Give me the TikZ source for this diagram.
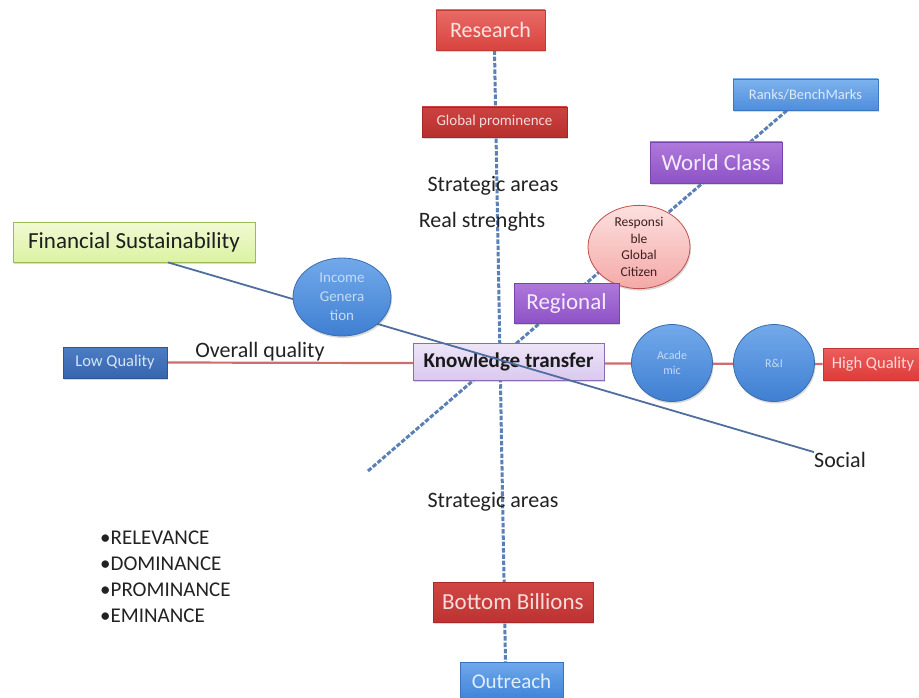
\documentclass[tikz,border=0pt]{standalone}
\usepackage{fontspec}
\setmainfont{Carlito}
\usetikzlibrary{shapes.geometric,shadows,backgrounds}
\definecolor{rsT}{HTML}{E86A66}\definecolor{rsB}{HTML}{D9443F}\definecolor{rsD}{HTML}{C23A36}\definecolor{rsX}{HTML}{FBE3E2}
\definecolor{gpT}{HTML}{CC4240}\definecolor{gpB}{HTML}{B8302E}\definecolor{gpD}{HTML}{A02826}\definecolor{gpX}{HTML}{F5DADA}
\definecolor{rkT}{HTML}{7DB3EE}\definecolor{rkB}{HTML}{4F8DDB}\definecolor{rkD}{HTML}{3F78C2}\definecolor{rkX}{HTML}{DCEAFB}
\definecolor{puT}{HTML}{AE79DB}\definecolor{puB}{HTML}{8E52C6}\definecolor{puD}{HTML}{7A44AE}\definecolor{puX}{HTML}{F3EAFB}
\definecolor{pkT}{HTML}{FCE0DF}\definecolor{pkB}{HTML}{F4A9A7}\definecolor{pkD}{HTML}{C0504D}\definecolor{pkX}{HTML}{3D1F1F}
\definecolor{grT}{HTML}{F1FAD4}\definecolor{grB}{HTML}{DCF2A2}\definecolor{grD}{HTML}{9BBB59}\definecolor{grX}{HTML}{1E1E1E}
\definecolor{blT}{HTML}{72A9EA}\definecolor{blB}{HTML}{3F7FD2}\definecolor{blD}{HTML}{3A6DAE}\definecolor{blX}{HTML}{C5DBF4}
\definecolor{lqT}{HTML}{4B7DC4}\definecolor{lqB}{HTML}{3766AE}\definecolor{lqD}{HTML}{2D5692}\definecolor{lqX}{HTML}{D6E4F6}
\definecolor{kwT}{HTML}{EEE5F8}\definecolor{kwB}{HTML}{D9C9EF}\definecolor{kwD}{HTML}{8A6CB0}\definecolor{kwX}{HTML}{1A1A1A}
\definecolor{hqT}{HTML}{EC5E5C}\definecolor{hqB}{HTML}{DD3C3A}\definecolor{hqD}{HTML}{C53533}\definecolor{hqX}{HTML}{FBDADA}
\definecolor{bbT}{HTML}{CF4644}\definecolor{bbB}{HTML}{BE3331}\definecolor{bbD}{HTML}{A62B29}\definecolor{bbX}{HTML}{F8DCDC}
\definecolor{orT}{HTML}{6FA8EC}\definecolor{orB}{HTML}{3F83D8}\definecolor{orD}{HTML}{3A72BE}\definecolor{orX}{HTML}{E3EEFC}
\definecolor{redline}{HTML}{CC6E6C}
\definecolor{blueline}{HTML}{4F6E9E}
\definecolor{dashline}{HTML}{5A80B5}
\definecolor{txt}{HTML}{222222}
\begin{document}
\begin{tikzpicture}[x=1pt,y=-1pt,
  shad/.style={drop shadow={shadow xshift=1pt,shadow yshift=-2pt,opacity=0.25,fill=black!60}},
  boxnode/.style={rectangle,inner sep=0pt,line width=0.8pt,shad},
  ovalnode/.style={ellipse,inner sep=0pt,line width=0.8pt,shad,align=center},
  pal/.style={top color=#1T,bottom color=#1B,draw=#1D,text=#1X},
  fz/.style={font=\fontsize{#1}{#1}\selectfont},
  plain/.style={text=txt,inner sep=0pt},
  dashln/.style={draw=dashline,line width=3pt,dash pattern=on 4.5pt off 1.8pt},
  redln/.style={draw=redline,line width=2.2pt},
  blueln/.style={draw=blueline,line width=1.8pt}
]
\path[use as bounding box] (0,0) rectangle (919,698);

% boxes
\node[boxnode,pal=rs,minimum width=109pt,minimum height=40pt,fz=22] (research) at (490.5,30) {Research};
\node[boxnode,pal=gp,minimum width=145pt,minimum height=30pt,fz=15] (glob) at (494.5,122) {Global prominence};
\node[boxnode,pal=rk,minimum width=145pt,minimum height=31pt,fz=14.5] (ranks) at (805.5,94.5) {Ranks/BenchMarks};
\node[boxnode,pal=pu,minimum width=132pt,minimum height=41pt,fz=23] (world) at (716,162.5) {World Class};
\node[ovalnode,pal=pk,minimum width=102pt,minimum height=82pt,font=\fontsize{13.5}{16.5}\selectfont] (resp) at (639,247) {Responsi\\ble\\Global\\Citizen};
\node[boxnode,pal=pu,minimum width=105pt,minimum height=40pt,fz=23] (regional) at (566.5,303) {Regional};
\node[boxnode,pal=gr,minimum width=242pt,minimum height=40pt,fz=23] (fin) at (134,242) {Financial Sustainability};
\node[boxnode,pal=lq,minimum width=104pt,minimum height=31pt,fz=16.5] (lowq) at (115,362.5) {Low Quality};
\node[boxnode,pal=kw,minimum width=191pt,minimum height=37pt,font=\fontsize{21}{21}\selectfont\bfseries] (know) at (508.5,361.5) {Knowledge transfer};
\node[boxnode,pal=hq,minimum width=100pt,minimum height=32pt,fz=16.5] (highq) at (873,364) {High Quality};
\node[boxnode,pal=bb,minimum width=160pt,minimum height=40pt,fz=23] (bottom) at (513,602) {Bottom Billions};
\node[boxnode,pal=or,minimum width=103pt,minimum height=37pt,fz=21] (outreach) at (511.5,681) {Outreach};

% plain texts
\node[plain,fz=22] (strat1) at (493,186) {Strategic areas};
\node[plain,fz=22] (real) at (482,222) {Real strenghts};
\node[plain,fz=22] (overall) at (260,352) {Overall quality};
\node[plain,fz=22] (social) at (840,460) {Social};
\node[plain,fz=22] (strat2) at (493,502) {Strategic areas};
\node[plain,anchor=north west,align=left,font=\fontsize{21}{26}\selectfont] (bullets) at (100,531) {•RELEVANCE\\•DOMINANCE\\•PROMINANCE\\•EMINANCE};

\coordinate (dstart) at (368,471);

% lines behind
\begin{pgfonlayer}{background}
  \draw[redln] (lowq.east) -- (highq.west);
  \draw[dashln] ([xshift=4pt]research.south) -- ([xshift=-6pt]outreach.north);
  \draw[dashln] (dstart) -- (ranks.center);
\end{pgfonlayer}

% social line over knowledge transfer, under income generation
\draw[blueln] (fin.south -| 168,0) -- (social.north west);

% circles on top
\node[ovalnode,pal=bl,minimum width=98pt,minimum height=78pt,font=\fontsize{15}{19}\selectfont] (income) at (342,297) {Income\\Genera\\tion};
\node[ovalnode,pal=bl,minimum width=81pt,minimum height=77pt,font=\fontsize{12}{15}\selectfont] (acad) at (672,363) {Acade\\mic};
\node[ovalnode,pal=bl,minimum width=81pt,minimum height=77pt,font=\fontsize{12}{15}\selectfont] (ri) at (774,363) {R\&I};
\end{tikzpicture}
\end{document}
